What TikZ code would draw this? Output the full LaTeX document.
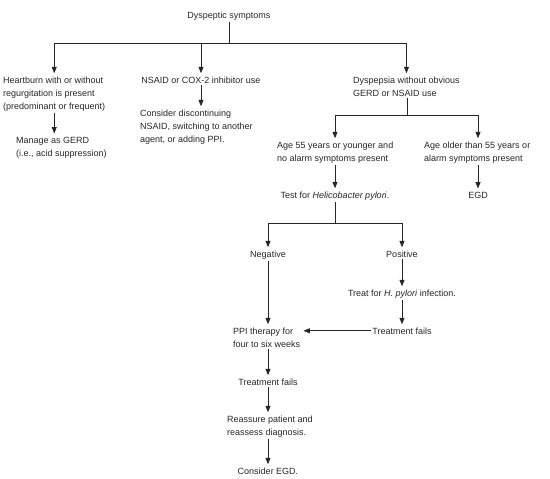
\documentclass[tikz,border=0pt]{standalone}
\usepackage{fontspec}
\setmainfont{Liberation Sans}
\usetikzlibrary{positioning, arrows.meta, calc}

\begin{document}
\begin{tikzpicture}[x=1pt, y=-1pt,
    lbl/.style={inner sep=1.5pt, text=black!85, font=\fontsize{9}{13}\selectfont},
    lbox/.style={lbl, align=left},
    line/.style={draw=black!85, line width=0.75pt},
    link/.style={line, -{Triangle[length=6.5pt, width=5pt]}, shorten >=1.5pt}]
  \useasboundingbox (0,0) rectangle (550,479);

  % top level (base anchor = last line of a box)
  \node[lbl, anchor=base] (dys) at (229,18) {Dyspeptic symptoms};
  \node[lbox, anchor=base west] (hb) at (1.5,109) {Heartburn with or without\\regurgitation is present\\(predominant or frequent)};
  \node[lbl, anchor=base] (nsaid) at (201,83) {NSAID or COX-2 inhibitor use};
  \node[lbox, anchor=base west] (dwo) at (351.5,96) {Dyspepsia without obvious\\GERD or NSAID use};
  \node[lbox, anchor=base west] (gerd) at (14.5,156) {Manage as GERD\\(i.e., acid suppression)};
  \node[lbox, anchor=base west] (cons) at (138.5,142) {Consider discontinuing\\NSAID, switching to another\\agent, or adding PPI.};

  % age split
  \node[lbox, anchor=base west] (young) at (275.5,161) {Age 55 years or younger and\\no alarm symptoms present};
  \node[lbox, anchor=base west] (old) at (422.5,161) {Age older than 55 years or\\alarm symptoms present};
  \node[lbl, anchor=base] (test) at (335,198) {Test for \textit{Helicobacter pylori}.};
  \node[lbl, anchor=base] (egd) at (478,198) {EGD};

  % H. pylori result
  \node[lbl, anchor=base] (neg) at (268,257) {Negative};
  \node[lbl, anchor=base] (pos) at (402,257) {Positive};
  \node[lbl, anchor=base] (treat) at (402,296) {Treat for \textit{H. pylori} infection.};
  \node[lbl, anchor=base] (fail1) at (402,334) {Treatment fails};
  \node[lbox, anchor=base west] (ppi) at (231.5,347) {PPI therapy for\\four to six weeks};
  \node[lbl, anchor=base] (fail2) at (268,385) {Treatment fails};
  \node[lbox, anchor=base west] (reas) at (225.5,435) {Reassure patient and\\reassess diagnosis.};
  \node[lbl, anchor=base] (egd2) at (268,474) {Consider EGD.};

  \coordinate (j1) at (229,43);
  \coordinate (j2) at (407,115);
  \coordinate (j3) at (335,223);

  \draw[line] (dys) -- (j1);
  \draw[link] (j1) -| (hb);
  \draw[link] (j1) -| (dwo);
  \draw[link] (nsaid |- j1) -- (nsaid);
  \draw[link] (hb) -- (gerd.north -| hb);
  \draw[link] (nsaid) -- (cons.north -| nsaid);

  \draw[line] (dwo.south -| j2) -- (j2);
  \draw[link] (j2) -| (young.north -| test);
  \draw[link] (j2) -| (old.north -| egd);
  \draw[link] (young.south -| test) -- (test);
  \draw[link] (old.south -| egd) -- (egd);

  \draw[line] (test) -- (j3);
  \draw[link] (j3) -| (neg);
  \draw[link] (j3) -| (pos);
  \draw[link] (pos) -- (treat);
  \draw[link] (treat) -- (fail1);
  \draw[link] (neg) -- (ppi.north -| neg);
  \draw[link] (fail1) -- (fail1 -| ppi.east);
  \draw[link] (ppi.south -| fail2) -- (fail2);
  \draw[link] (fail2) -- (reas.north -| fail2);
  \draw[link] (reas.south -| egd2) -- (egd2);
\end{tikzpicture}
\end{document}
